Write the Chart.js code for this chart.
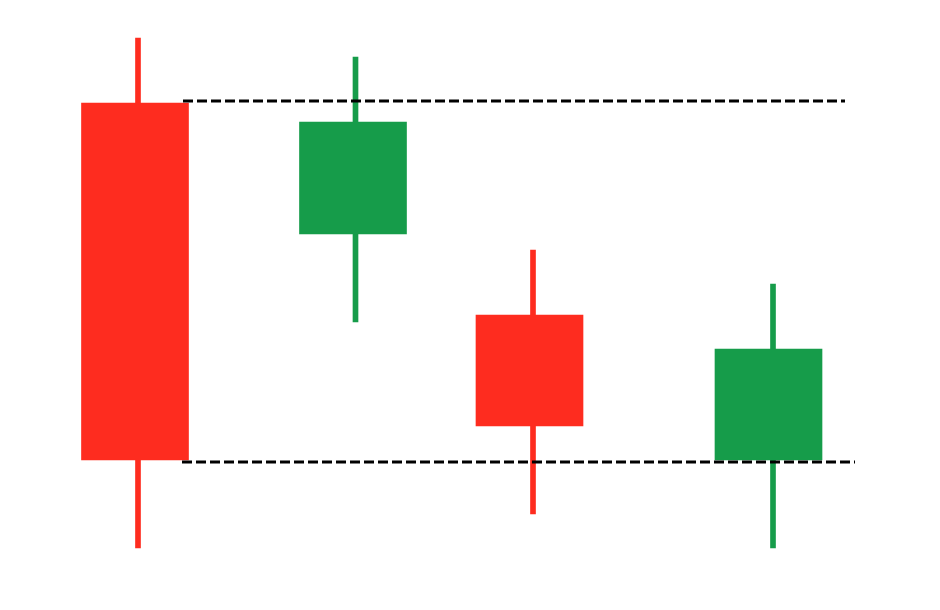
<!DOCTYPE html>
<html>
<head>
<meta charset="utf-8">
<script src="https://cdn.jsdelivr.net/npm/chart.js@4/dist/chart.umd.min.js"></script>
<style>
    html, body { margin: 0; padding: 0; background: #fff; }
    #c { display: block; }
</style>
</head>
<body>
<canvas id="c" width="940" height="610"></canvas>
<script>
// Four candles, price units (higher = up). Bodies and wicks sit on a linear x axis.
const bodyX = [135, 353, 529.5, 768.5];
const wickX = [138, 355.5, 533, 773];
const opens = [507, 376, 295, 150];
const closes = [150, 488, 184, 261];
const highs = [572, 553, 360, 326];
const lows = [62, 288, 96, 62];

// Dashed support / resistance levels
const topLevel = 509;
const topFrom = 183, topTo = 845;
const bottomLevel = 148;
const bottomFrom = 182, bottomTo = 855;

const RED = '#fe2c1f';
const GREEN = '#169c4a';

const colours = opens.map((o, i) => closes[i] >= o ? GREEN : RED);

const bodies = bodyX.map((x, i) => ({ x, y: [opens[i], closes[i]] }));
const wicks = wickX.map((x, i) => ({ x, y: [lows[i], highs[i]] }));

new Chart(document.getElementById('c'), {
    type: 'bar',
    data: {
        datasets: [
            {
                type: 'line',
                data: [{ x: topFrom, y: topLevel }, { x: topTo, y: topLevel }],
                borderColor: '#000',
                borderWidth: 3,
                borderDash: [10, 4],
                pointRadius: 0,
                order: 0,
            },
            {
                type: 'line',
                data: [{ x: bottomFrom, y: bottomLevel }, { x: bottomTo, y: bottomLevel }],
                borderColor: '#000',
                borderWidth: 3,
                borderDash: [10, 4],
                pointRadius: 0,
                order: 0,
            },
            {
                data: bodies,
                backgroundColor: colours,
                borderWidth: 0,
                barThickness: 107,
                grouped: false,
                order: 1,
            },
            {
                data: wicks,
                backgroundColor: colours,
                borderWidth: 0,
                barThickness: 5,
                grouped: false,
                order: 2,
            },
        ],
    },
    options: {
        responsive: false,
        animation: false,
        layout: { padding: 0 },
        plugins: { legend: { display: false }, tooltip: { enabled: false } },
        scales: {
            x: { type: 'linear', min: 0, max: 940, offset: false, display: false },
            y: { type: 'linear', min: 0, max: 610, display: false },
        },
    },
});
</script>
</body>
</html>
